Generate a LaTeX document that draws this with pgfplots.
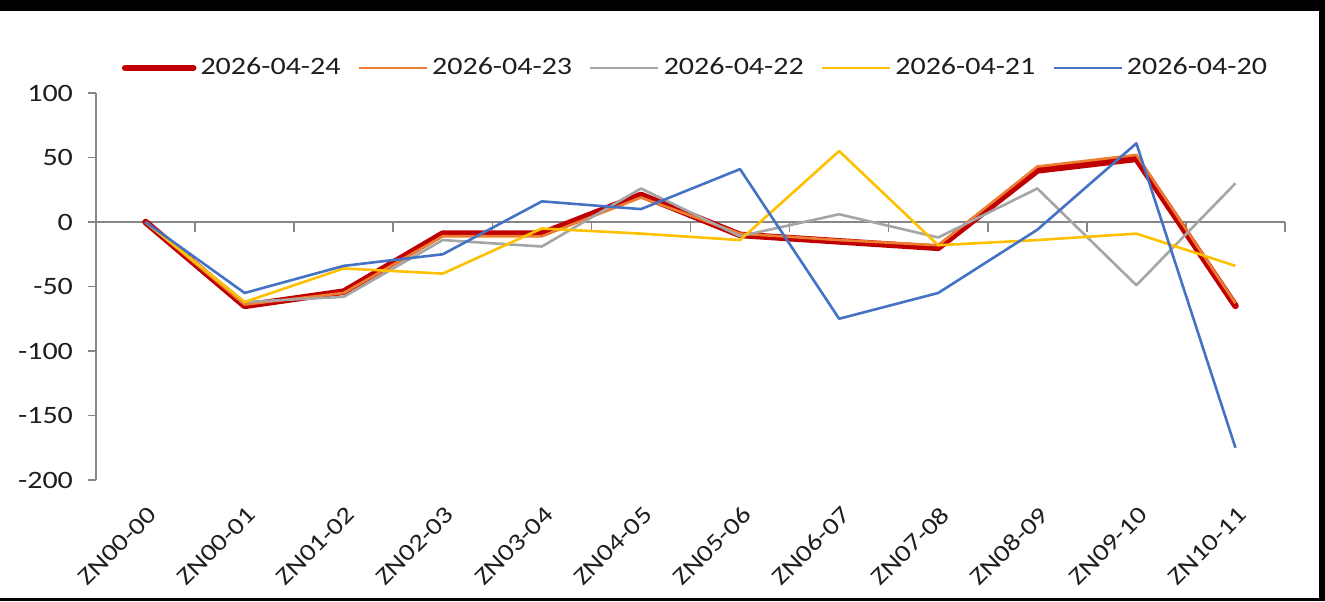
\documentclass[border=0pt]{standalone}
\usepackage{fontspec}
\setmainfont{Carlito}[FakeStretch=1.2]
\usepackage{pgfplots}
\pgfplotsset{compat=1.18}
\definecolor{s24}{RGB}{192,0,0}
\definecolor{s23}{RGB}{237,125,49}
\definecolor{s22}{RGB}{165,165,165}
\definecolor{s21}{RGB}{255,192,0}
\definecolor{s20}{RGB}{68,114,196}
\definecolor{axgray}{RGB}{134,134,134}
\definecolor{txt}{RGB}{30,30,30}

\begin{document}
\begin{tikzpicture}
% black frame round the chart, as in the screenshot
\fill[black] (-48pt,-60.5pt) rectangle (614.5pt,240pt);
\fill[white] (-48pt,-59pt) rectangle (611.5pt,234.5pt);
\begin{axis}[
    at={(0,0)}, anchor=south west,
    scale only axis,
    width=594.5pt, height=193.5pt,
    xmin=-0.5, xmax=11.5,
    ymin=-200, ymax=100,
    axis y line=left,
    axis x line=bottom,
    x axis line style={draw=none},
    y axis line style={-, draw=axgray, line width=0.8pt},
    xtick={0,...,11},
    xticklabels={ZN00-00,ZN00-01,ZN01-02,ZN02-03,ZN03-04,ZN04-05,ZN05-06,ZN06-07,ZN07-08,ZN08-09,ZN09-10,ZN10-11},
    xtick style={draw=none},
    ytick={-200,-150,-100,-50,0,50,100},
    yticklabels={-200,-150,-100,-50,0,50,100},
    ytick style={draw=axgray, line width=0.8pt},
    tick align=outside,
    major tick length=4pt,
    tick label style={font=\fontsize{12.5}{15}\selectfont, text=txt},
    yticklabel style={xshift=-4pt},
    xticklabel style={font=\fontsize{12}{14}\selectfont, xshift=6pt, yshift=-9pt, rotate=45, anchor=east},
    clip=false,
    legend columns=5,
    legend style={
        at={(0.505,1.065)}, anchor=center,
        draw=none, fill=none,
        font=\fontsize{12.5}{15}\selectfont,
        text=txt,
        /tikz/every even column/.append style={column sep=6.5pt},
    },
    legend image code/.code={\draw[#1] (0pt,0pt) -- (34pt,0pt);},
]
% horizontal axis line at zero with ticks between the categories
\draw[axgray, line width=0.8pt] (axis cs:-0.5,0) -- (axis cs:11.5,0);
\pgfplotsinvokeforeach{-0.5,0.5,1.5,2.5,3.5,4.5,5.5,6.5,7.5,8.5,9.5,10.5,11.5}{
    \draw[axgray, line width=0.8pt] (axis cs:#1,0) -- ++(0pt,-5pt);
}
\addplot[s24, line width=3.3pt, line join=round, line cap=round]
    coordinates {(0,0) (1,-65) (2,-54) (3,-9) (4,-9) (5,21) (6,-10) (7,-15) (8,-20) (9,40) (10,49) (11,-65)};
\addlegendentry{2026-04-24}
\addplot[s23, line width=1.3pt, line join=round]
    coordinates {(0,0) (1,-64) (2,-55) (3,-11) (4,-11) (5,19) (6,-9) (7,-14) (8,-18) (9,43) (10,52) (11,-63)};
\addlegendentry{2026-04-23}
\addplot[s22, line width=1.3pt, line join=round]
    coordinates {(0,0) (1,-62) (2,-58) (3,-14) (4,-19) (5,26) (6,-11) (7,6) (8,-12) (9,26) (10,-49) (11,30)};
\addlegendentry{2026-04-22}
\addplot[s21, line width=1.3pt, line join=round]
    coordinates {(0,0) (1,-62) (2,-36) (3,-40) (4,-5) (5,-9) (6,-14) (7,55) (8,-18) (9,-14) (10,-9) (11,-34)};
\addlegendentry{2026-04-21}
\addplot[s20, line width=1.3pt, line join=round]
    coordinates {(0,0) (1,-55) (2,-34) (3,-25) (4,16) (5,10) (6,41) (7,-75) (8,-55) (9,-6) (10,61) (11,-175)};
\addlegendentry{2026-04-20}
\end{axis}
\end{tikzpicture}
\end{document}
